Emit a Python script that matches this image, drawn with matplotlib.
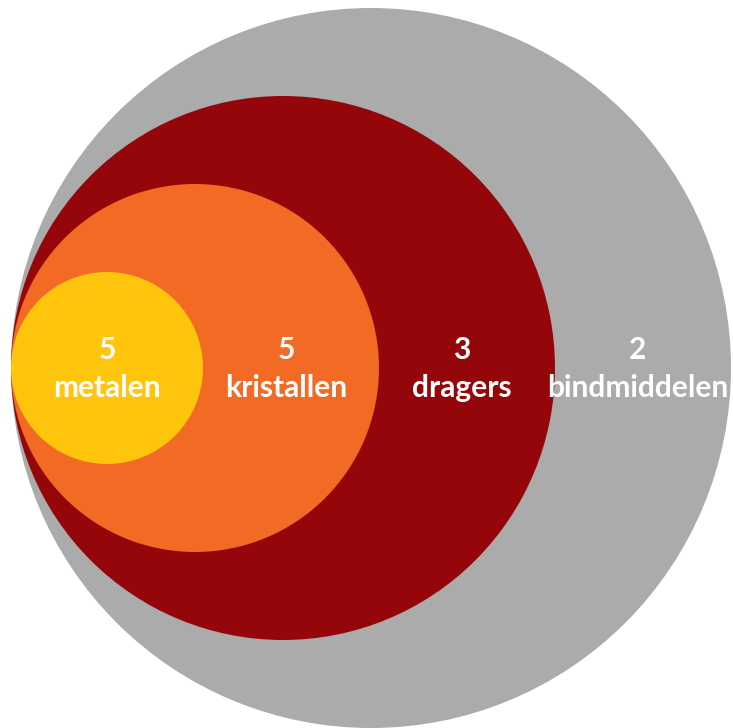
import matplotlib
matplotlib.use("Agg")
import matplotlib.pyplot as plt
from matplotlib.patches import Circle

# nested categories, innermost first
labels = ["metalen", "kristallen", "dragers", "bindmiddelen"]
counts = [5, 5, 3, 2]
colors = ["#FFC50D", "#F26A24", "#95060A", "#ABABAB"]

W, H = 733, 728
left, cy = 11, 368
r0, step = 96, 88  # radius of inner circle, increment per ring

fig = plt.figure(figsize=(W / 100, H / 100), dpi=100)
ax = fig.add_axes([0, 0, 1, 1])
ax.set_xlim(0, W)
ax.set_ylim(H, 0)
ax.set_aspect("equal")
ax.axis("off")

n = len(labels)
radii = [r0 + step * i for i in range(n)]
for i in reversed(range(n)):
    r = radii[i]
    ax.add_patch(Circle((left + r, cy), r, facecolor=colors[i], edgecolor="none"))

for i in range(n):
    if i == 0:
        xc = left + radii[0]
    else:
        xc = left + radii[i - 1] + radii[i] - 5
    ax.text(xc, cy + 1, f"{counts[i]}\n{labels[i]}", ha="center", va="center",
            color="white", fontsize=21.5, fontweight="bold", family="Lato",
            linespacing=1.45)

fig.savefig("out.png", dpi=100)
